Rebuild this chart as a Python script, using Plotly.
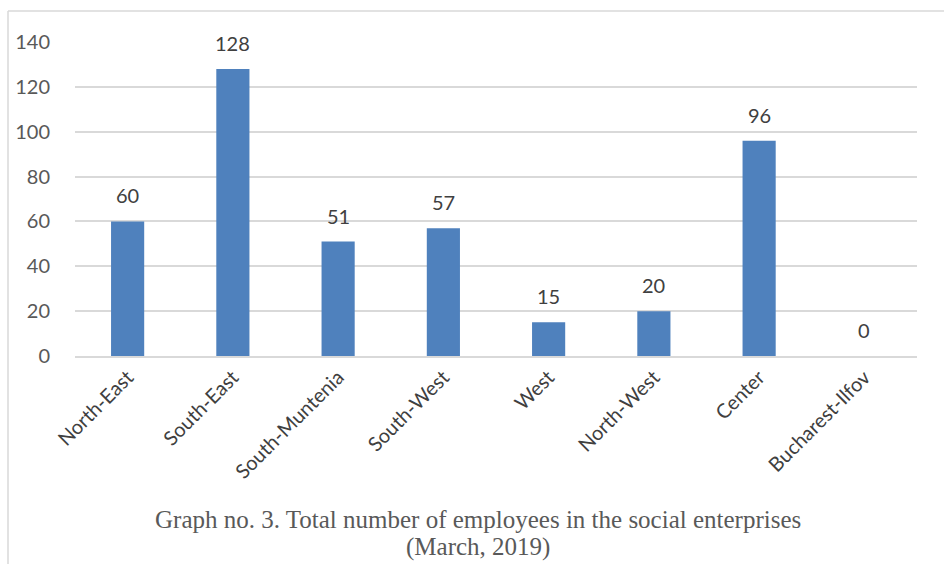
import plotly.graph_objects as go

categories = ["North-East", "South-East", "South-Muntenia", "South-West", "West", "North-West", "Center", "Bucharest-Ilfov"]
employees = [60, 128, 51, 57, 15, 20, 96, 0]
y_ticks = [0, 20, 40, 60, 80, 100, 120, 140]
caption_line1 = "Graph no. 3. Total number of employees in the social enterprises"
caption_line2 = "(March, 2019)"

W, H = 944, 564
L, R, T, B = 75, 27, 42, 208
pw, ph = W - L - R, H - T - B

def px_x(p):
    return (p - L) / pw

def px_y(p):
    return (H - B - p) / ph

fig = go.Figure()
fig.add_trace(go.Bar(x=categories, y=employees, marker=dict(color="#4F81BD", line=dict(width=0)),
                     hoverinfo="x+y"))

annotations = []
for c, v in zip(categories, employees):
    annotations.append(dict(x=c, y=v, xref="x", yref="y", text=str(v), showarrow=False,
                            yanchor="bottom", yshift=12,
                            font=dict(family="Lato", size=20, color="#404040")))
annotations.append(dict(x=px_x(478), y=px_y(519), xref="paper", yref="paper", text=caption_line1,
                        showarrow=False, xanchor="center", yanchor="middle",
                        font=dict(family="Liberation Serif", size=25, color="#595959")))
annotations.append(dict(x=px_x(478), y=px_y(547), xref="paper", yref="paper", text=caption_line2,
                        showarrow=False, xanchor="center", yanchor="middle",
                        font=dict(family="Liberation Serif", size=25, color="#595959")))

shapes = [
    dict(type="line", xref="paper", yref="paper", x0=px_x(8), x1=px_x(950), y0=px_y(11), y1=px_y(11),
         line=dict(color="#d9d9d9", width=1.5)),
    dict(type="line", xref="paper", yref="paper", x0=px_x(8), x1=px_x(8), y0=px_y(11), y1=px_y(570),
         line=dict(color="#d9d9d9", width=1.5)),
]

fig.update_layout(
    width=W, height=H,
    margin=dict(l=L, r=R, t=T, b=B),
    plot_bgcolor="white", paper_bgcolor="white",
    bargap=0.685,
    showlegend=False,
    annotations=annotations,
    shapes=shapes,
    xaxis=dict(tickangle=-45, tickfont=dict(family="Lato", size=20, color="#404040"),
               showgrid=False, showline=True, linecolor="#d9d9d9", linewidth=1.5, ticks=""),
    yaxis=dict(range=[0, 140], tickvals=y_ticks, showgrid=True, gridcolor="#d9d9d9", gridwidth=1.5,
               zeroline=False, showline=False, ticks="outside", ticklen=20, tickcolor="rgba(0,0,0,0)",
               tickfont=dict(family="Lato", size=20, color="#595959")),
)

fig.write_html("out.html", config={"displayModeBar": False},
               post_script="document.body.style.margin='0px';document.body.style.overflow='hidden';")
